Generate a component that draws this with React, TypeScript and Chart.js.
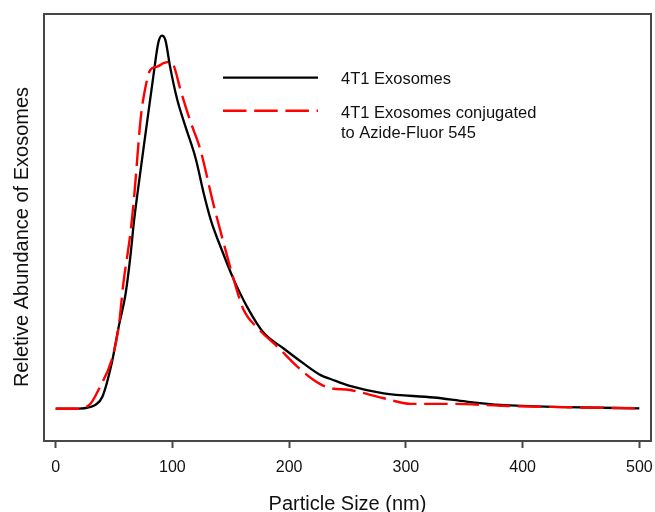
import React, { useEffect, useRef } from "react";
import { Chart, registerables } from "chart.js";

Chart.register(...registerables);

// ---- data ----
const X_TICKS = [0, 100, 200, 300, 400, 500];

const BLACK_X = [0, 20, 30, 34, 40, 48, 54, 60, 64, 67, 70, 77, 84, 88, 91, 94, 98, 104, 111, 120, 127, 133, 143, 152, 164, 178, 195, 212, 227, 236, 252, 281, 324, 352, 381, 438, 500];
const BLACK_Y = [0, 0, 0.5, 1, 3.2, 12.2, 22, 31, 40.8, 50, 57.5, 73.8, 89.9, 98.2, 100, 98.8, 91.7, 83, 75.8, 67, 57.5, 50.5, 42, 35, 27.3, 20.4, 16.2, 12.2, 9, 7.9, 6.1, 4.1, 3, 1.9, 1, 0.4, 0.1];

const RED_X = [0, 20, 30, 38, 48, 54, 58, 64, 67, 73, 77, 81, 87, 92.5, 98, 101, 107, 115, 124, 135, 144, 151, 161, 173, 190, 207, 221, 233, 252, 281, 304, 338, 381, 438, 500];
const RED_Y = [0, 0, 1.4, 5.9, 13.1, 22, 33.6, 47, 56, 78.3, 86.3, 90.8, 91.7, 92.6, 93, 92.1, 85.4, 77.4, 69.4, 55, 44.3, 36.3, 26.5, 21.6, 16.6, 11.3, 7.7, 5.7, 5, 2.8, 1.3, 1.3, 0.8, 0.4, 0.1];

const LABEL_BLACK = "4T1 Exosomes";
const LABEL_RED = ["4T1 Exosomes conjugated", "to Azide-Fluor 545"];
const X_TITLE = "Particle Size (nm)";
const Y_TITLE = "Reletive Abundance of Exosomes";

const FONT = "'Liberation Sans', Arial, sans-serif";
const FRAME = "#474747";
const RED = "#ff0000";

const toPoints = (xs: number[], ys: number[]) => xs.map((x, i) => ({ x, y: ys[i] }));

export default function App() {
  const ref = useRef<HTMLCanvasElement>(null);

  useEffect(() => {
    const canvas = ref.current!;
    const decor = {
      id: "decor",
      afterDatasetsDraw(chart: any) {
        const { ctx, chartArea: a } = chart;
        ctx.save();
        // frame
        ctx.strokeStyle = FRAME;
        ctx.lineWidth = 2;
        ctx.strokeRect(a.left, a.top, a.right - a.left, a.bottom - a.top);

        // legend
        ctx.lineWidth = 2.3;
        ctx.strokeStyle = "#000";
        ctx.setLineDash([]);
        ctx.beginPath();
        ctx.moveTo(223, 77.7);
        ctx.lineTo(318, 77.7);
        ctx.stroke();
        ctx.strokeStyle = RED;
        ctx.lineWidth = 2.4;
        ctx.setLineDash([23.5, 7.7]);
        ctx.beginPath();
        ctx.moveTo(223, 110.7);
        ctx.lineTo(318, 110.7);
        ctx.stroke();
        ctx.setLineDash([]);

        ctx.fillStyle = "#111";
        ctx.font = `16.5px ${FONT}`;
        ctx.textAlign = "left";
        ctx.textBaseline = "alphabetic";
        ctx.fillText(LABEL_BLACK, 341, 84.3);
        ctx.fillText(LABEL_RED[0], 341, 117.5);
        ctx.fillText(LABEL_RED[1], 341, 137.5);

        // axis titles
        ctx.font = `20px ${FONT}`;
        ctx.textAlign = "center";
        ctx.fillText(X_TITLE, (a.left + a.right) / 2, 510);
        ctx.translate(28.3, 237);
        ctx.rotate(-Math.PI / 2);
        ctx.fillText(Y_TITLE, 0, 0);
        ctx.restore();
      },
    };

    const chart = new Chart(canvas, {
      type: "line",
      data: {
        datasets: [
          {
            label: LABEL_BLACK,
            data: toPoints(BLACK_X, BLACK_Y),
            borderColor: "#000",
            borderWidth: 2.3,
            pointRadius: 0,
            cubicInterpolationMode: "monotone",
            fill: false,
            order: 1,
          },
          {
            label: LABEL_RED.join(" "),
            data: toPoints(RED_X, RED_Y),
            borderColor: RED,
            borderWidth: 2.4,
            borderDash: [23.5, 7.7],
            pointRadius: 0,
            cubicInterpolationMode: "monotone",
            fill: false,
            order: 0,
          },
        ],
      },
      options: {
        responsive: false,
        animation: false,
        layout: { padding: { left: 44, right: 4, top: 14, bottom: 0 } },
        plugins: { legend: { display: false }, tooltip: { enabled: false } },
        scales: {
          x: {
            type: "linear",
            min: -10,
            max: 510,
            afterBuildTicks: (scale: any) => {
              scale.ticks = X_TICKS.map((v) => ({ value: v }));
            },
            afterFit: (scale: any) => {
              scale.height = 71;
              scale.paddingLeft = 0;
              scale.paddingRight = 0;
            },
            border: { display: false },
            grid: {
              display: true,
              drawOnChartArea: false,
              drawTicks: true,
              tickLength: 7,
              tickColor: FRAME,
              tickWidth: 2,
            },
            ticks: {
              color: "#111",
              font: { family: FONT, size: 16 },
              padding: 10,
              maxRotation: 0,
              autoSkip: false,
            },
          },
          y: {
            type: "linear",
            display: false,
            min: -8.66,
            max: 105.8,
          },
        },
      },
      plugins: [decor],
    });
    return () => chart.destroy();
  }, []);

  return (
    <div style={{ position: "fixed", left: 0, top: 0, width: 655, height: 512, background: "#fff" }}>
      <canvas ref={ref} width={655} height={512} style={{ width: 655, height: 512, display: "block" }} />
    </div>
  );
}
